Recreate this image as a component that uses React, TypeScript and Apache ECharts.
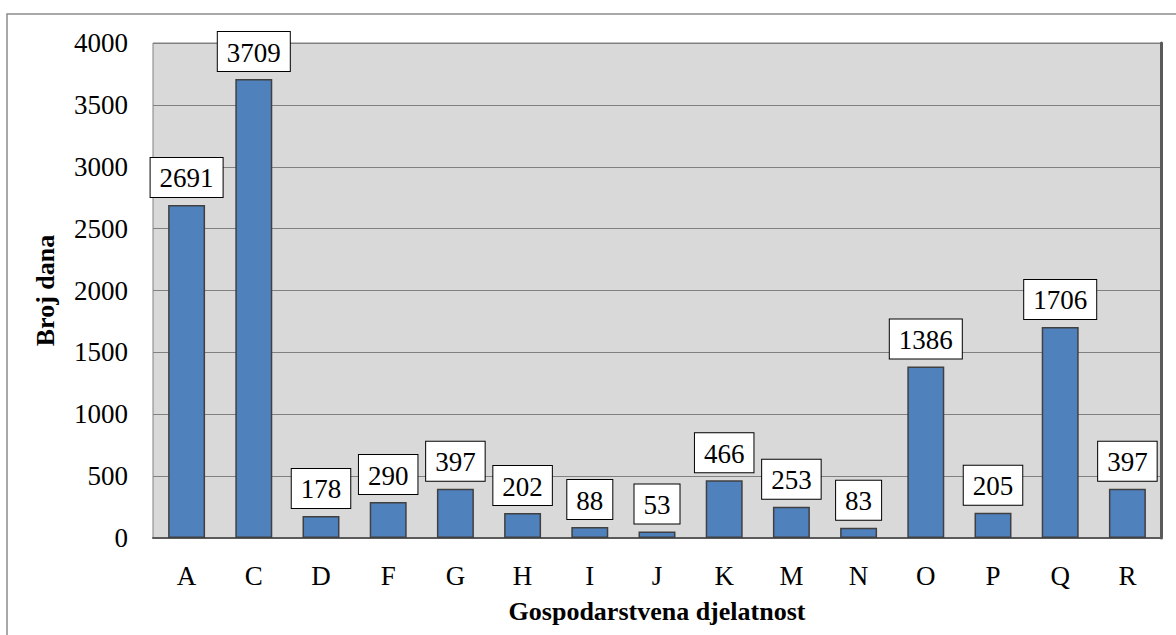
import React, { useEffect, useRef } from "react";
import * as echarts from "echarts";

const categories = ["A", "C", "D", "F", "G", "H", "I", "J", "K", "M", "N", "O", "P", "Q", "R"];
const values = [2691, 3709, 178, 290, 397, 202, 88, 53, 466, 253, 83, 1386, 205, 1706, 397];
const yAxisTitle = "Broj dana";
const xAxisTitle = "Gospodarstvena djelatnost";

const FONT = "Liberation Serif";

export default function App() {
  const ref = useRef<HTMLDivElement>(null);
  useEffect(() => {
    if (!ref.current) return;
    const chart = echarts.init(ref.current, undefined, { renderer: "svg" });
    chart.setOption({
      animation: false,
      backgroundColor: "#ffffff",
      textStyle: { fontFamily: FONT },
      graphic: [
        {
          type: "rect",
          shape: { x: 7, y: 14, width: 1250, height: 700 },
          style: { fill: "none", stroke: "#8c8c8c", lineWidth: 1.5 },
          silent: true,
          z: -1,
        },
      ],
      grid: {
        left: 153,
        top: 43,
        width: 1008,
        height: 495,
        show: true,
        backgroundColor: "#d9d9d9",
        borderColor: "#808080",
        borderWidth: 1,
      },
      xAxis: {
        type: "category",
        data: categories,
        axisTick: { show: false },
        axisLine: { show: true, lineStyle: { color: "#5a5a5a", width: 2 } },
        axisLabel: { color: "#000", fontFamily: FONT, fontSize: 27, margin: 24 },
        name: xAxisTitle,
        nameLocation: "middle",
        nameGap: 60,
        nameTextStyle: { color: "#000", fontFamily: FONT, fontSize: 26, fontWeight: "bold" },
      },
      yAxis: [
        {
          type: "value",
          min: 0,
          max: 4000,
          interval: 500,
          axisLine: { show: false },
          axisTick: { show: false },
          splitLine: { show: true, lineStyle: { color: "#808080", width: 1 } },
          axisLabel: {
            color: "#000",
            fontFamily: FONT,
            fontSize: 27,
            margin: 25,
            formatter: (v: number) => String(v),
          },
          name: yAxisTitle,
          nameLocation: "middle",
          nameGap: 95,
          nameTextStyle: { color: "#000", fontFamily: FONT, fontSize: 26, fontWeight: "bold" },
        },
        {
          type: "value",
          position: "right",
          min: 0,
          max: 4000,
          interval: 500,
          axisLine: { show: true, lineStyle: { color: "#5a5a5a", width: 3 } },
          axisTick: { show: false },
          axisLabel: { show: false },
          splitLine: { show: false },
        },
      ],
      series: [
        {
          type: "bar",
          data: values,
          barWidth: "55%",
          itemStyle: { color: "#4f81bd", borderColor: "#404040", borderWidth: 1.5 },
          label: {
            show: true,
            position: "top",
            distance: 8,
            color: "#000",
            fontFamily: FONT,
            fontSize: 27,
            backgroundColor: "#ffffff",
            borderColor: "#000000",
            borderWidth: 1,
            padding: [7, 9, 5, 9],
          },
        },
      ],
    });
    return () => chart.dispose();
  }, []);
  return (
    <div
      ref={ref}
      style={{ position: "fixed", left: 0, top: 0, width: 1176, height: 635 }}
    />
  );
}
